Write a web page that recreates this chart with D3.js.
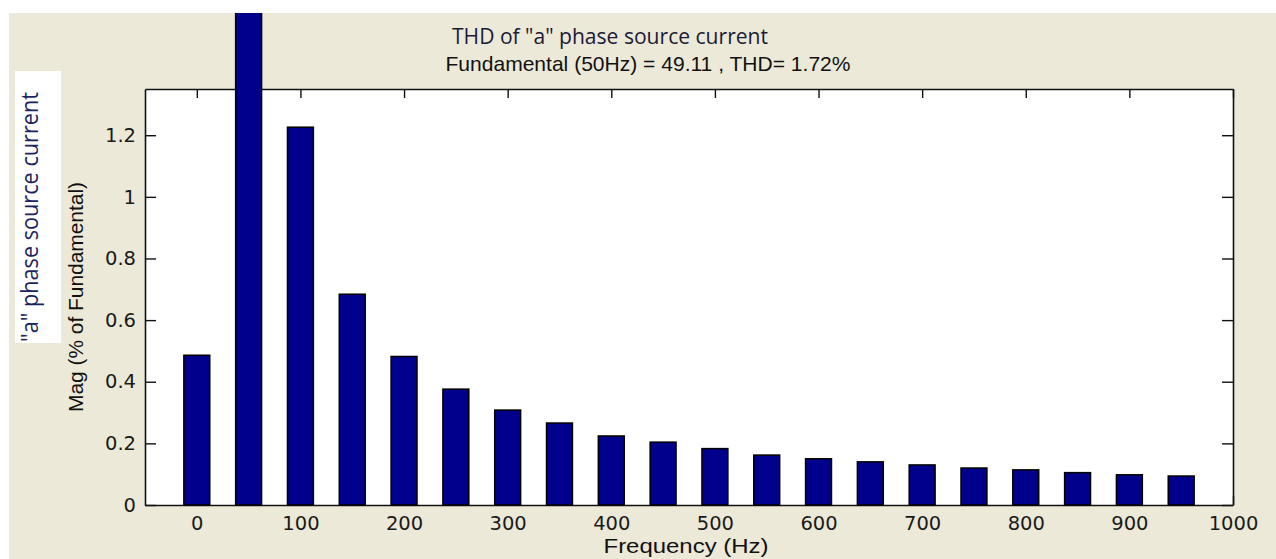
<!DOCTYPE html>
<html>
<head>
<meta charset="utf-8">
<script src="https://cdn.jsdelivr.net/npm/d3@7"></script>
<style>
  html, body { margin: 0; padding: 0; background: #ffffff; }
  svg { display: block; }
</style>
</head>
<body>
<script>
// Harmonic spectrum of the "a" phase source current (magnitude in % of fundamental)
const frequencies = [0, 50, 100, 150, 200, 250, 300, 350, 400, 450, 500, 550, 600, 650, 700, 750, 800, 850, 900, 950];
const magnitudes  = [0.486, 100, 1.226, 0.684, 0.482, 0.376, 0.308, 0.266, 0.224, 0.204, 0.183, 0.162, 0.150, 0.140, 0.130, 0.120, 0.114, 0.105, 0.098, 0.094];
const xTickValues = [0, 100, 200, 300, 400, 500, 600, 700, 800, 900, 1000];
const yTickValues = [0, 0.2, 0.4, 0.6, 0.8, 1, 1.2];
const titleLines  = ['THD of "a" phase source current', 'Fundamental (50Hz) = 49.11  , THD= 1.72%'];
const xLabel = 'Frequency (Hz)';
const yLabel = 'Mag (% of Fundamental)';
const sideLabel = '"a" phase source current';

const W = 1276, H = 559;
const plot = { left: 145, right: 1233, top: 89, bottom: 505 };
const barWidthHz = 25;

const svg = d3.select("body").append("svg").attr("width", W).attr("height", H);

// figure background
svg.append("rect").attr("width", W).attr("height", H).attr("fill", "#ffffff");
svg.append("rect").attr("x", 9).attr("y", 13).attr("width", W - 9).attr("height", H - 13).attr("fill", "#ece9d8");
svg.append("clipPath").attr("id", "fig-clip")
  .append("rect").attr("x", 9).attr("y", 13).attr("width", W - 9).attr("height", H - 13);

const x = d3.scaleLinear().domain([-50, 1000]).range([plot.left, plot.right]);
const y = d3.scaleLinear().domain([0, 1.35]).range([plot.bottom, plot.top]);

// axes area
svg.append("rect")
  .attr("x", plot.left).attr("y", plot.top)
  .attr("width", plot.right - plot.left).attr("height", plot.bottom - plot.top)
  .attr("fill", "#ffffff");

const tickFont = "'DejaVu Sans', sans-serif";
const labelFont = "'Liberation Sans', Arial, sans-serif";

function styleAxis(g) {
  g.selectAll(".domain").attr("stroke", "#111").attr("stroke-width", 1.6);
  g.selectAll(".tick line").attr("stroke", "#111").attr("stroke-width", 1.4);
  g.selectAll(".tick text").attr("fill", "#1a1a1a").style("font-family", tickFont).style("font-size", "19.5px");
}

svg.append("g").attr("transform", `translate(0,${plot.bottom})`)
  .call(d3.axisBottom(x).tickValues(xTickValues).tickFormat(d3.format("d"))
    .tickSizeInner(-9).tickSizeOuter(0).tickPadding(11))
  .call(styleAxis);

svg.append("g").attr("transform", `translate(0,${plot.top})`)
  .call(d3.axisTop(x).tickValues(xTickValues).tickFormat("")
    .tickSizeInner(-9).tickSizeOuter(0))
  .call(styleAxis);

svg.append("g").attr("transform", `translate(${plot.left},0)`)
  .call(d3.axisLeft(y).tickValues(yTickValues).tickFormat(d => d === 0 || d === 1 ? String(d) : d3.format(".1f")(d))
    .tickSizeInner(-11).tickSizeOuter(0).tickPadding(9))
  .call(styleAxis);

svg.append("g").attr("transform", `translate(${plot.right},0)`)
  .call(d3.axisRight(y).tickValues(yTickValues).tickFormat("")
    .tickSizeInner(-11).tickSizeOuter(0))
  .call(styleAxis);

// bars (fundamental runs past the top of the axes)
const bars = svg.append("g").attr("clip-path", "url(#fig-clip)");
bars.selectAll("rect")
  .data(frequencies.map((f, i) => ({ f, v: magnitudes[i] })))
  .join("rect")
  .attr("x", d => x(d.f - barWidthHz / 2))
  .attr("width", d => x(d.f + barWidthHz / 2) - x(d.f - barWidthHz / 2))
  .attr("y", d => y(d.v))
  .attr("height", d => y(0) - y(d.v))
  .attr("fill", "#00008c")
  .attr("stroke", "#000")
  .attr("stroke-width", 1.5);

// titles
svg.append("text")
  .attr("x", 610).attr("y", 44).attr("text-anchor", "middle")
  .attr("textLength", 316).attr("lengthAdjust", "spacingAndGlyphs")
  .style("font-family", "'Open Sans', sans-serif").style("font-size", "22.5px")
  .attr("fill", "#1b1b36")
  .text(titleLines[0]);

svg.append("text")
  .attr("x", 648).attr("y", 71).attr("text-anchor", "middle")
  .attr("textLength", 405).attr("lengthAdjust", "spacingAndGlyphs")
  .style("font-family", labelFont).style("font-size", "21px")
  .attr("fill", "#111")
  .text(titleLines[1]);

// axis labels
svg.append("text")
  .attr("x", 686).attr("y", 553).attr("text-anchor", "middle")
  .attr("textLength", 165).attr("lengthAdjust", "spacingAndGlyphs")
  .style("font-family", labelFont).style("font-size", "20px")
  .attr("fill", "#111")
  .text(xLabel);

svg.append("text")
  .attr("transform", `translate(83,${(plot.top + plot.bottom) / 2}) rotate(-90)`)
  .attr("text-anchor", "middle")
  .attr("textLength", 230).attr("lengthAdjust", "spacingAndGlyphs")
  .style("font-family", labelFont).style("font-size", "20px")
  .attr("fill", "#111")
  .text(yLabel);

// side label on its white box
svg.append("rect").attr("x", 15).attr("y", 71).attr("width", 46).attr("height", 272).attr("fill", "#ffffff");
svg.append("text")
  .attr("transform", "translate(38,217) rotate(-90)")
  .attr("text-anchor", "middle")
  .attr("textLength", 250).attr("lengthAdjust", "spacingAndGlyphs")
  .style("font-family", "'Open Sans', sans-serif").style("font-size", "23px")
  .attr("fill", "#1c2460")
  .text(sideLabel);
</script>
</body>
</html>
